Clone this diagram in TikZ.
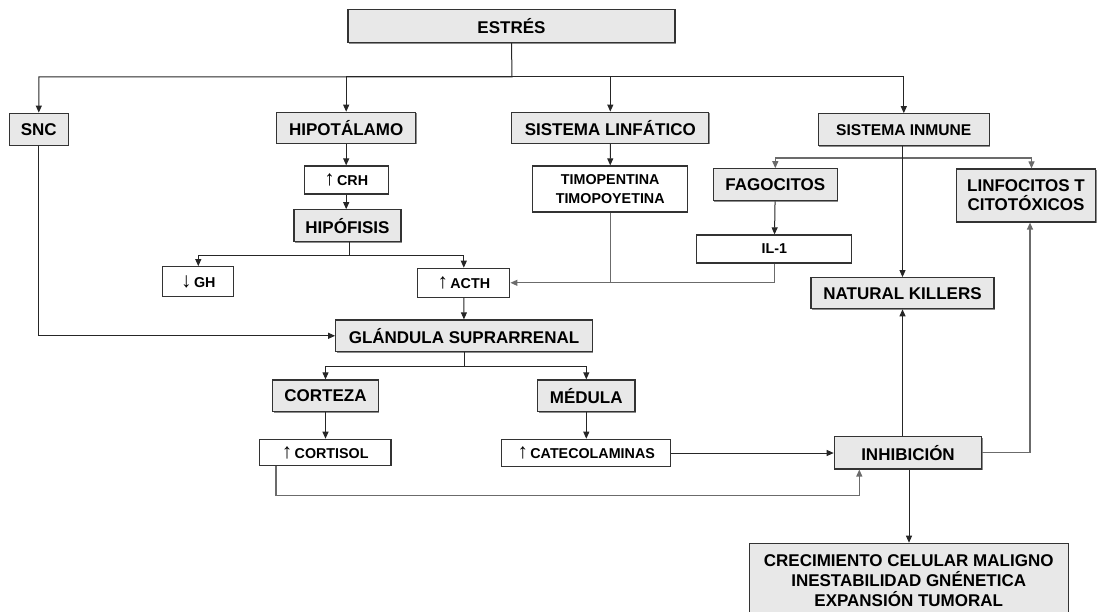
\documentclass[tikz,border=0pt]{standalone}
\usepackage{fontspec}
\setmainfont{Liberation Sans}
\usetikzlibrary{arrows.meta,shadows}
\newcommand{\up}{{\mdseries\fontsize{21}{21}\selectfont ↑}\,}
\newcommand{\down}{{\mdseries\fontsize{21}{21}\selectfont ↓}\,}
\begin{document}
\begin{tikzpicture}[x=1pt,y=-1pt,
  gbox/.style={draw=black!80, line width=1.2pt, fill=black!9, inner sep=0pt,
    font=\fontsize{17}{20.3}\selectfont\bfseries, align=center,
    drop shadow={shadow xshift=1.1pt, shadow yshift=-1.1pt, fill=black!45, opacity=1}},
  wbox/.style={draw=black!80, line width=1.2pt, fill=white, inner sep=0pt,
    font=\fontsize{14.3}{19.3}\selectfont\bfseries, align=center},
  link/.style={line width=1pt, draw=black!85, -{Triangle[length=7pt,width=6pt]}},
  soft/.style={line width=1.2pt, draw=black!58, -{Triangle[length=7pt,width=6pt]}},
  plainline/.style={line width=1.2pt, draw=black!58},
]
\useasboundingbox (0,0) rectangle (1097,612);

% top level
\node[gbox, minimum width=327pt, minimum height=33pt] (E) at (511.5,26) {ESTRÉS};
\node[gbox, minimum width=59pt, minimum height=32pt] (SNC) at (38.8,129.2) {SNC};
\node[gbox, minimum width=139pt, minimum height=31pt] (HIP) at (346.2,127.8) {HIPOTÁLAMO};
\node[gbox, minimum width=197pt, minimum height=31pt] (LIN) at (610.3,127.7) {SISTEMA LINFÁTICO};
\node[gbox, minimum width=171pt, minimum height=32pt, font=\fontsize{15.6}{19}\selectfont\bfseries] (INM) at (903.8,129.8) {SISTEMA INMUNE};

% second level
\node[wbox, minimum width=84pt, minimum height=28pt] (CRH) at (346.2,180) {\up CRH};
\node[wbox, minimum width=155pt, minimum height=46pt] (TIM) at (610.2,189) {TIMOPENTINA\\TIMOPOYETINA};
\node[gbox, minimum width=124pt, minimum height=32pt] (FAG) at (775.3,184.8) {FAGOCITOS};
\node[gbox, minimum width=139pt, minimum height=53pt, font=\fontsize{17}{19}\selectfont\bfseries] (LT) at (1026,195.5) {LINFOCITOS T\\CITOTÓXICOS};
\node[gbox, minimum width=107pt, minimum height=32pt] (HPF) at (347.5,225.8) {HIPÓFISIS};
\node[wbox, minimum width=155pt, minimum height=28pt] (IL) at (774.3,249) {IL-1};
\node[wbox, minimum width=71pt, minimum height=30pt] (GH) at (198.3,281.7) {\down GH};
\node[wbox, minimum width=92pt, minimum height=29pt] (ACTH) at (463.8,282.8) {\up ACTH};
\node[gbox, minimum width=183pt, minimum height=31pt] (NK) at (902.5,293.2) {NATURAL KILLERS};

% adrenal gland
\node[gbox, minimum width=256.6pt, minimum height=31.7pt] (GLA) at (464,335.8) {GLÁNDULA SUPRARRENAL};
\node[gbox, minimum width=105.6pt, minimum height=31.7pt] (COR) at (325.5,395.8) {CORTEZA};
\node[gbox, minimum width=97.3pt, minimum height=31.7pt] (MED) at (586.3,395.8) {MÉDULA};
\node[wbox, minimum width=131.7pt, minimum height=26.4pt] (CORT) at (325.2,452.5) {\up CORTISOL};
\node[wbox, minimum width=169pt, minimum height=27.4pt] (CAT) at (586.2,453) {\up CATECOLAMINAS};
\node[gbox, minimum width=147.4pt, minimum height=32.3pt] (INH) at (908,452.8) {INHIBICIÓN};
\node[gbox, minimum width=319pt, minimum height=74.4pt] (CRE) at (908.7,580.5)
  {CRECIMIENTO CELULAR MALIGNO\\INESTABILIDAD GNÉNETICA\\EXPANSIÓN TUMORAL};

% branching from stress
\coordinate (bus) at (512,77);
\draw[link] (E.south) -- (bus) -| (SNC);
\draw[link] (bus) -| (HIP);
\draw[link] (bus) -| (LIN);
\draw[link] (bus) -| (INM);

% hypothalamic axis
\draw[link] (HIP) -- (CRH);
\draw[link] (CRH.south) -- (CRH.south |- HPF.north);
\draw[link] ([xshift=1.5pt]HPF.south) -- ++(0,13.3) -| (GH);
\draw[link] ([xshift=1.5pt]HPF.south) ++(0,13.3) -| (ACTH);
\draw[link] (ACTH) -- (GLA);
\draw[link] (SNC) |- (GLA);

% lymphatic and immune inputs to ACTH
\draw[link] (LIN) -- (TIM);
\draw[plainline] (TIM) -- (TIM |- ACTH);
\draw[soft] (IL) |- (ACTH);
\draw[link] (FAG) -- (IL);
\draw[soft] (INM.south -| NK) -- ++(0,11.6) -| (FAG);
\draw[soft] (INM.south -| NK) ++(0,11.6) -| ([xshift=5.5pt]LT.north);
\draw[link] (INM.south -| NK) -- (NK);

% adrenal outputs
\draw[link] (GLA.south) -- ++(0,14.3) -| (COR);
\draw[link] (GLA.south) ++(0,14.3) -| (MED);
\draw[link] (COR) -- (COR |- CORT.north);
\draw[link] (MED) -- (MED |- CAT.north);
\draw[link] (CAT.east) -- (CAT.east -| INH.west);
\draw[soft] ([xshift=-49.2pt]CORT.south) -- ++(0,28.8) -| ([xshift=-48.7pt]INH.south);

% effects of inhibition
\draw[link] (INH.north -| NK) -- (NK);
\draw[soft] (INH.east) -| ([xshift=4pt]LT.south);
\draw[link] ([xshift=1pt]INH.south) -- ([xshift=1pt]INH.south |- CRE.north);
\end{tikzpicture}
\end{document}
